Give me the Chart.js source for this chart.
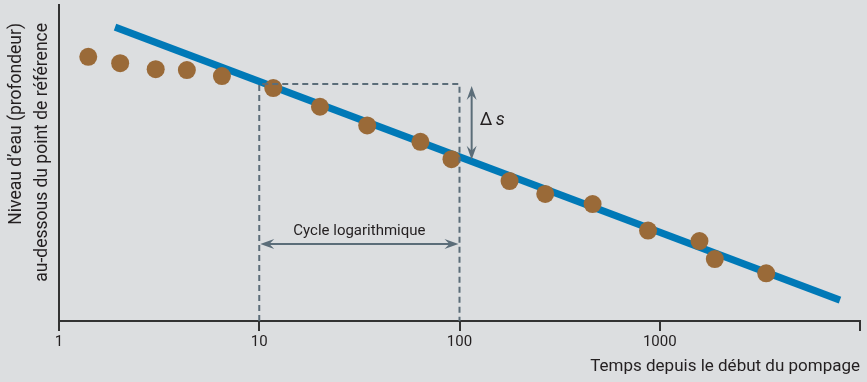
<!DOCTYPE html>
<html><head><meta charset="utf-8">
<script src="https://cdn.jsdelivr.net/npm/chart.js@4/dist/chart.umd.min.js"></script>
<style>
html,body{margin:0;padding:0;background:#dcdee0;}
#wrap{width:867px;height:382px;}
</style></head>
<body><div id="wrap"><canvas id="c" width="867" height="382"></canvas></div>
<script>
// Time since start of pumping (log scale)
const obsTimes = [1.40, 2.02, 3.04, 4.35, 6.51, 11.75, 20.1, 34.6, 63.8, 91.2, 177.8, 268, 462, 874, 1579, 1884, 3401];
// Water level (depth below reference point), arbitrary units, 0 = top of axis
const obsDepth = [1.64, 1.84, 2.03, 2.06, 2.25, 2.63, 3.22, 3.81, 4.33, 4.88, 5.57, 5.98, 6.30, 7.14, 7.47, 8.04, 8.49];
// Fitted straight line (two end points)
const fitTimes = [1.905, 7943];
const fitDepth = [0.70, 9.34];
// Log-cycle construction box
const boxTimes = [10, 10, 100, 100];
const boxDepth = [10, 2.5, 2.5, 10];
const cycleArrow = {from: 10, to: 100, depth: 7.56};
const deltaArrow = {time: 115, from: 2.56, to: 4.9};
const tickValues = [1, 10, 100, 1000, 10000];
const tickLabels = ['1', '10', '100', '1000', ''];
const xTitle = 'Temps depuis le début du pompage';
const yTitle = ['Niveau d\u2019eau (profondeur)', 'au-dessous du point de référence'];
const cycleLabel = 'Cycle logarithmique';

const FONT = "'Liberation Sans Narrow', 'Arial Narrow', 'Roboto', sans-serif";
const GREY = '#5b6d79';
const TXT = '#231f20';

function pts(xs, ys){ return xs.map((x,i)=>({x:x, y:ys[i]})); }

function arrowHead(ctx, x, y, ang, len, half){
  ctx.save();
  ctx.translate(x,y); ctx.rotate(ang);
  ctx.beginPath();
  ctx.moveTo(0,0);
  ctx.lineTo(-len, -half);
  ctx.lineTo(-len*0.65, 0);
  ctx.lineTo(-len, half);
  ctx.closePath();
  ctx.fill();
  ctx.restore();
}

const annot = {
  id: 'annot',
  afterDatasetsDraw(chart){
    const ctx = chart.ctx, xs = chart.scales.x, ys = chart.scales.y;
    ctx.save();
    ctx.strokeStyle = GREY; ctx.fillStyle = GREY; ctx.lineWidth = 2;
    const x1 = xs.getPixelForValue(cycleArrow.from), x2 = xs.getPixelForValue(cycleArrow.to);
    const yc = ys.getPixelForValue(cycleArrow.depth);
    ctx.beginPath(); ctx.moveTo(x1+6, yc); ctx.lineTo(x2-6, yc); ctx.stroke();
    arrowHead(ctx, x1+1, yc, Math.PI, 14, 5);
    arrowHead(ctx, x2-1, yc, 0, 14, 5);
    const xd = xs.getPixelForValue(deltaArrow.time);
    const ya = ys.getPixelForValue(deltaArrow.from), yb = ys.getPixelForValue(deltaArrow.to);
    ctx.beginPath(); ctx.moveTo(xd, ya+6); ctx.lineTo(xd, yb-6); ctx.stroke();
    arrowHead(ctx, xd, ya, -Math.PI/2, 14, 5);
    arrowHead(ctx, xd, yb, Math.PI/2, 14, 5);
    ctx.fillStyle = TXT;
    ctx.textBaseline = 'middle';
    ctx.font = "15px " + FONT;
    ctx.textAlign = 'center';
    ctx.fillText(cycleLabel, (x1+x2)/2, yc-13);
    ctx.textAlign = 'left';
    ctx.font = "18px " + FONT;
    ctx.fillText('\u0394', xd+8, (ya+yb)/2-2);
    ctx.font = "italic 18px " + FONT;
    ctx.fillText('s', xd+24, (ya+yb)/2-2);
    ctx.font = "17px " + FONT;
    ctx.textAlign = 'right';
    ctx.fillText(xTitle, chart.chartArea.right, 367);
    ctx.font = "17.5px " + FONT;
    ctx.save();
    ctx.translate(17, 23); ctx.rotate(-Math.PI/2);
    ctx.textAlign = 'right';
    ctx.fillText(yTitle[0], 0, 0);
    ctx.restore();
    ctx.save();
    ctx.translate(43, 23); ctx.rotate(-Math.PI/2);
    ctx.textAlign = 'right';
    ctx.fillText(yTitle[1], 0, 0);
    ctx.restore();
    ctx.restore();
  }
};

const bg = {
  id: 'bg',
  beforeDraw(chart){
    const c = chart.ctx; c.save(); c.fillStyle = '#dcdee0'; c.fillRect(0,0,chart.width,chart.height); c.restore();
  }
};

new Chart(document.getElementById('c'), {
  type: 'scatter',
  data: {
    datasets: [
      {type:'line', data: pts(fitTimes, fitDepth), borderColor:'#0079b7', borderWidth:7, pointRadius:0, borderCapStyle:'butt', order:3},
      {type:'scatter', data: pts(obsTimes, obsDepth), backgroundColor:'#9a6a38', borderWidth:0, pointRadius:9, pointStyle:'circle', order:2},
      {type:'line', data: pts(boxTimes, boxDepth), borderColor:GREY, borderWidth:2, borderDash:[6,4], pointRadius:0, fill:false, tension:0, order:1}
    ]
  },
  options: {
    responsive: false,
    animation: false,
    devicePixelRatio: 1,
    layout: {autoPadding: false, padding: {left: 59, top: 5, right: 7, bottom: 0}},
    plugins: {legend:{display:false}, tooltip:{enabled:false}},
    scales: {
      x: {
        type: 'logarithmic', min: 1, max: 10000,
        afterBuildTicks: s => { s.ticks = tickValues.map(v=>({value:v})); },
        afterFit: s => { s.height = 61; },
        ticks: {autoSkip:false, maxRotation:0, padding:2, color:TXT, font:{family:FONT, size:15},
                callback: (v) => { const i = tickValues.indexOf(v); return i>=0 ? tickLabels[i] : ''; }},
        grid: {drawOnChartArea:false, drawTicks:true, tickLength:10, color:'#333', lineWidth:2},
        border: {display:true, color:'#333', width:2}
      },
      y: {
        min: 0, max: 10, reverse: true,
        afterFit: s => { s.width = 0; },
        ticks: {display:false},
        grid: {display:false, drawTicks:false},
        border: {display:true, color:'#333', width:2}
      }
    }
  },
  plugins: [bg, annot]
});
</script>
</body></html>
